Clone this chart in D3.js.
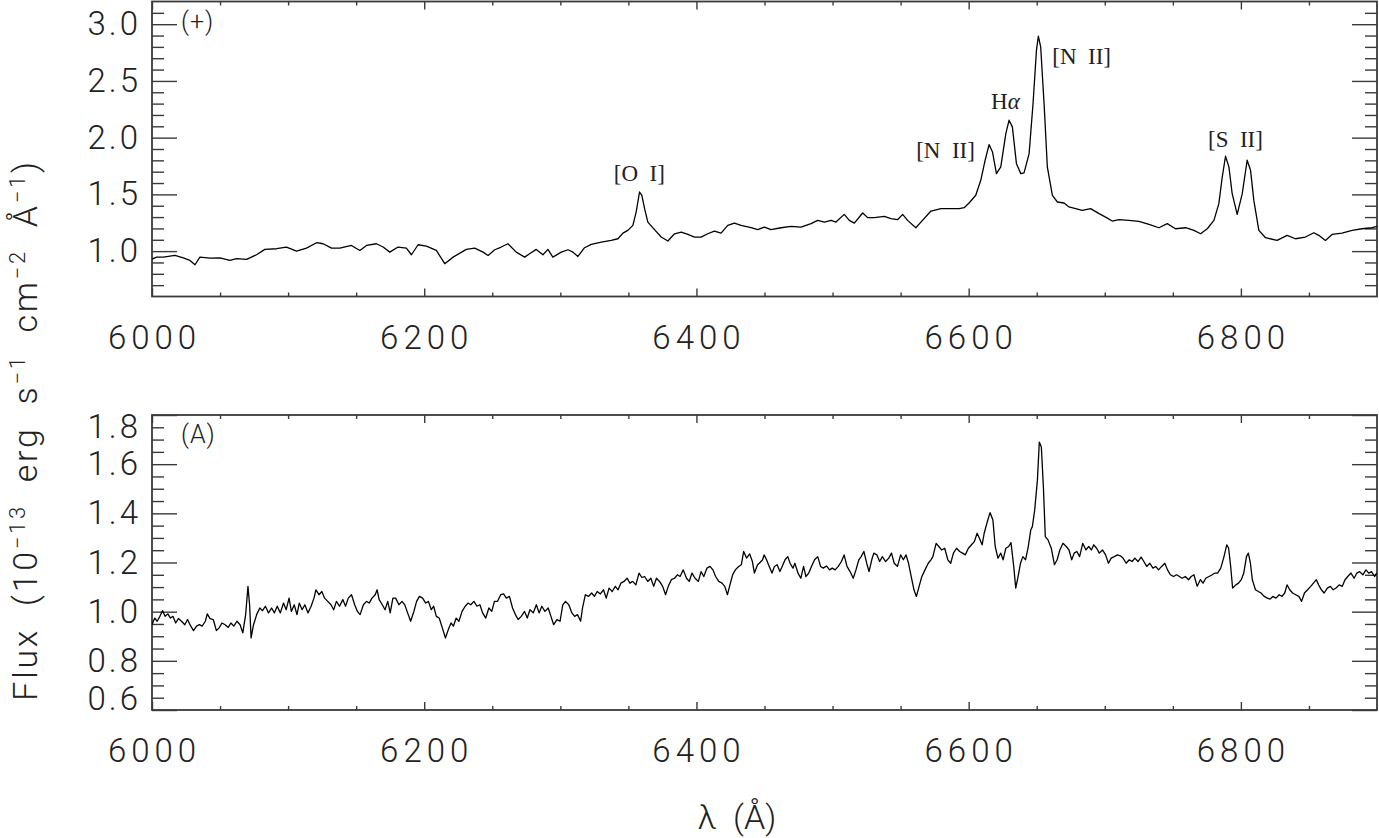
<!DOCTYPE html>
<html><head><meta charset="utf-8">
<script src="https://cdn.jsdelivr.net/npm/d3@7"></script>
<style>
html,body{margin:0;padding:0;background:#fff;}
svg{display:block;}
.lab{font-family:Roboto,"Open Sans",sans-serif;font-weight:300;fill:#222;}
.ann{font-family:"Liberation Serif","DejaVu Serif",serif;fill:#222;}
</style></head><body>
<svg id="c" width="1379" height="838"></svg>
<script>
// ---------------- data ----------------
const xMajor = [6000, 6200, 6400, 6600, 6800];
const xMinor = [6050, 6100, 6150, 6250, 6300, 6350, 6450, 6500, 6550, 6650, 6700, 6750, 6850];
const topYMajor = [1.0, 1.5, 2.0, 2.5, 3.0];
const topYMinor = [0.7,0.8,0.9,1.1,1.2,1.3,1.4,1.6,1.7,1.8,1.9,2.1,2.2,2.3,2.4,2.6,2.7,2.8,2.9,3.1];
const botYMajor = [0.6, 0.8, 1.0, 1.2, 1.4, 1.6, 1.8];
const botYMinor = [0.65,0.7,0.75,0.85,0.9,0.95,1.05,1.1,1.15,1.25,1.3,1.35,1.45,1.5,1.55,1.65,1.7,1.75];

const topLambda = [6000,6003.4,6008.3,6016.9,6023.0,6027.9,6031.6,6035.2,6042.6,6049.9,
6057.2,6062.1,6069.5,6076.8,6082.9,6091.5,6098.8,6106.2,6113.5,6120.9,
6125.7,6131.9,6138.0,6146.5,6152.7,6157.6,6164.9,6169.8,6174.7,6180.8,
6186.9,6190.6,6195.5,6201.6,6208.9,6215.1,6221.2,6230.9,6237.1,6243.2,
6246.9,6251.8,6256.6,6261.5,6267.6,6273.8,6277.4,6282.3,6287.2,6290.9,6294.5,
6300.7,6305.6,6309.3,6312.9,6317.8,6322.7,6330.1,6337.4,6342.3,6346.0,
6349.6,6353.3,6355.7,6358.2,6359.9,6361.9,6364.3,6369.2,6374.1,6379.0,
6383.9,6388.8,6393.7,6398.6,6403.4,6408.3,6413.2,6418.1,6423.0,6427.9,
6432.8,6440.1,6445.0,6449.9,6454.8,6462.2,6469.5,6476.8,6484.2,6489.1,
6494.0,6498.9,6502.5,6508.6,6512.3,6516.0,6522.1,6525.8,6530.7,6538.0,
6542.9,6547.8,6551.5,6555.1,6561.2,6564.9,6572.3,6579.6,6586.9,
6593.0,6596.7,6600.3,6605.2,6608.9,6612.1,6615.0,6617.5,6620.4,6623.6,
6627.3,6629.7,6632.1,6635.1,6638.3,6640.7,6644.4,6647.3,6649.8,6651.2,
6652.9,6655.4,6657.8,6661.5,6665.2,6670.1,6673.7,6678.6,6683.5,6689.6,
6695.8,6700.6,6705.5,6710.4,6717.8,6725.1,6732.5,6739.8,6745.9,6752.0,
6759.4,6765.5,6770.4,6775.3,6780.2,6783.8,6786.3,6788.7,6791.2,6793.6,
6797.3,6801.0,6804.6,6807.1,6809.5,6813.2,6818.1,6826.6,6834.0,6840.1,
6847.4,6853.6,6857.2,6862.1,6867.0,6874.3,6881.7,6889.0,6896.4,6900];
const topFlux = [0.930,0.947,0.947,0.962,0.941,0.918,0.880,0.947,0.938,0.941,
0.918,0.933,0.927,0.968,1.015,1.021,1.036,1.000,1.027,1.074,
1.065,1.027,1.027,1.050,1.006,1.050,1.065,1.036,0.991,1.036,
1.027,0.968,1.056,1.044,1.006,0.889,0.947,1.015,1.027,0.991,
0.962,1.012,1.036,1.065,0.991,0.947,0.977,1.015,0.968,1.015,0.947,
0.991,1.012,0.991,0.953,1.030,1.059,1.080,1.094,1.109,1.159,
1.183,1.227,1.344,1.521,1.492,1.374,1.256,1.189,1.124,1.089,
1.153,1.168,1.147,1.124,1.124,1.153,1.177,1.159,1.227,1.247,
1.227,1.206,1.189,1.212,1.189,1.206,1.218,1.212,1.242,1.271,
1.256,1.271,1.256,1.324,1.271,1.247,1.336,1.295,1.295,1.306,
1.286,1.277,1.324,1.271,1.206,1.256,1.353,1.374,1.374,
1.374,1.383,1.424,1.492,1.624,1.801,1.939,1.874,1.683,1.742,
2.036,2.154,2.095,1.771,1.683,1.689,1.859,2.301,2.771,2.895,
2.801,2.301,1.742,1.492,1.433,1.424,1.389,1.374,1.359,1.374,
1.330,1.300,1.265,1.277,1.271,1.262,1.236,1.206,1.242,1.197,
1.206,1.183,1.153,1.197,1.271,1.418,1.653,1.836,1.742,1.506,
1.324,1.506,1.801,1.712,1.447,1.183,1.118,1.094,1.139,1.109,
1.124,1.162,1.139,1.094,1.147,1.159,1.183,1.197,1.206,1.218];

const botLambda = [6000.0,6002.0,6003.8,6005.8,6007.8,6009.6,6011.6,6013.6,6015.4,6017.4,
6019.4,6021.7,6024.1,6026.1,6028.1,6030.5,6032.8,6034.8,6036.8,6039.2,
6040.6,6042.6,6045.0,6047.3,6049.3,6051.4,6053.7,6056.0,6058.0,6060.1,
6062.4,6064.7,6066.7,6068.8,6070.5,6071.7,6072.8,6074.6,6076.9,6079.2,
6081.2,6083.3,6085.6,6087.9,6089.9,6092.0,6094.3,6096.6,6098.6,6100.7,
6102.4,6104.5,6106.5,6108.2,6110.3,6112.3,6114.6,6116.9,6119.0,6120.4,
6122.7,6124.8,6126.8,6129.1,6131.5,6133.5,6135.5,6137.8,6140.2,6142.2,
6144.2,6146.6,6148.9,6150.9,6152.9,6155.3,6157.6,6159.6,6161.6,6164.0,
6165.4,6166.9,6169.2,6171.2,6173.2,6175.0,6177.0,6179.0,6181.4,6183.7,
6185.7,6187.8,6190.0,6192.4,6194.4,6196.5,6198.8,6201.1,6203.1,6205.2,
6206.9,6208.9,6211.0,6213.3,6215.6,6217.7,6219.7,6221.4,6223.5,6225.5,
6227.8,6230.1,6232.2,6234.2,6236.5,6238.8,6240.9,6242.9,6245.2,6247.5,
6249.6,6251.6,6253.9,6256.2,6258.3,6260.3,6262.6,6264.9,6267.0,6269.0,
6271.3,6273.7,6275.7,6277.7,6280.1,6282.4,6284.4,6286.4,6288.7,6291.1,
6293.1,6295.1,6297.5,6299.8,6301.8,6303.8,6306.2,6308.5,6310.5,6312.6,
6314.9,6316.3,6318.4,6320.7,6323.0,6325.0,6327.1,6329.4,6331.7,6333.7,
6335.8,6338.1,6340.4,6342.4,6344.5,6346.8,6349.1,6351.1,6353.2,6355.5,
6357.8,6359.9,6361.9,6364.2,6366.5,6368.6,6370.6,6372.9,6375.2,6377.3,
6379.3,6381.6,6383.9,6386.0,6388.0,6390.3,6392.7,6394.7,6396.7,6399.0,
6401.4,6403.4,6405.4,6407.7,6410.0,6412.1,6414.1,6416.4,6418.8,6420.8,
6422.8,6424.6,6426.6,6428.6,6431.0,6433.0,6434.7,6436.8,6439.1,6441.1,
6442.6,6444.9,
6446.2,6448.6,6449.7,6451.5,6453.5,6455.5,6457.3,6459.3,6461.3,6463.0,
6465.1,6467.1,6468.8,6470.9,6472.3,6474.6,6476.7,6478.7,6480.4,6482.5,
6484.5,6486.8,6489.1,6491.2,6493.2,6495.5,6497.8,6499.8,6501.9,6504.2,
6506.5,6508.5,6510.6,6512.9,6515.2,6517.2,6519.3,6521.0,6523.0,6525.1,
6526.8,6528.8,6530.3,6532.6,6534.6,6536.6,6539.0,6541.3,6543.3,6545.3,
6547.7,6550.0,6552.0,6554.0,6555.8,6557.8,6559.8,6561.6,6563.6,6565.6,
6567.9,6570.3,6572.3,6573.7,6576.1,6578.1,6580.1,6582.4,6584.7,6586.8,
6588.8,6591.1,6593.4,6595.5,6597.5,6599.8,6602.1,6604.2,6606.2,6607.9,
6609.9,6611.4,6613.7,6615.7,6617.8,6619.5,6621.5,6623.6,6625.3,6627.3,
6629.4,6631.1,6633.1,6634.6,6636.3,6638.1,6639.8,6641.8,6643.8,6645.6,
6646.8,6648.5,6650.5,6651.9,6653.4,6654.9,6656.3,6658.3,6660.7,6663.0,
6665.0,6667.0,6669.3,6671.7,6673.7,6675.7,6677.5,6679.5,6681.5,6683.8,
6686.2,6688.2,6690.2,6691.9,6694.0,6696.0,6698.3,6700.6,6702.7,6704.7,
6707.0,6709.3,6711.4,6713.4,6715.7,6718.0,6720.1,6722.1,6724.4,6726.7,
6728.7,6730.8,6733.1,6735.4,6737.4,6739.5,6741.8,6744.1,6746.1,6748.2,
6750.5,6752.8,6754.8,6756.8,6759.2,6761.5,6763.5,6765.5,6767.9,6770.2,
6772.2,6774.2,6776.6,6778.9,6780.9,6782.9,6785.2,6787.6,6789.6,6791.0,
6792.5,6793.9,6796.3,6798.3,6800.3,6802.1,6804.1,6805.5,6807.0,6808.4,
6810.7,6812.8,6814.8,6817.1,6819.4,6821.5,6823.5,6825.8,6828.1,6830.2,
6832.2,6833.9,6835.9,6838.0,6840.3,6842.6,6844.6,6846.7,6849.0,6851.3,
6853.3,6855.4,6857.1,6859.1,6861.2,6863.5,6865.8,6867.8,6869.9,6872.2,
6874.5,6876.5,6878.5,6880.9,6883.2,6885.2,6887.2,6889.6,6891.9,6893.9,
6895.9,6898.3,6899.7];
const botFlux = [0.947,0.974,0.961,0.981,1.004,0.981,0.991,0.974,0.981,0.954,
0.972,0.961,0.947,0.968,0.945,0.923,0.941,0.947,0.941,0.961,
0.991,0.972,0.968,0.923,0.934,0.954,0.947,0.936,0.954,0.941,
0.961,0.947,0.914,0.988,1.103,1.028,0.893,0.947,0.988,1.015,
1.004,1.022,0.995,1.015,0.995,1.022,0.995,1.035,1.008,1.055,
1.001,1.028,0.988,1.035,1.008,1.028,0.995,1.022,1.055,1.089,
1.069,1.082,1.055,1.042,1.028,1.008,1.042,1.022,1.049,1.022,
1.055,1.069,1.028,1.001,0.988,1.028,1.042,1.035,1.055,1.069,
1.089,1.049,1.028,1.008,1.042,0.995,1.055,1.055,1.028,1.042,
1.028,0.995,0.961,1.001,1.042,1.062,1.055,1.035,1.042,1.008,
1.022,0.981,0.974,0.934,0.893,0.927,0.954,0.941,0.974,0.961,
1.001,1.022,1.035,1.028,1.042,1.022,1.028,0.995,0.974,1.015,
1.001,1.042,1.042,1.069,1.072,1.055,1.062,1.015,0.988,0.968,
0.981,1.001,0.974,1.008,0.995,1.028,0.995,1.022,1.001,1.015,
0.981,0.947,0.968,0.961,1.028,1.042,1.028,0.995,0.981,0.988,
0.961,1.015,1.069,1.062,1.076,1.062,1.082,1.072,1.089,1.055,
1.096,1.082,1.103,1.089,1.116,1.123,1.136,1.116,1.123,1.109,
1.157,1.139,1.143,1.123,1.136,1.103,1.136,1.123,1.103,1.069,
1.103,1.130,1.136,1.150,1.143,1.170,1.136,1.123,1.157,1.136,
1.123,1.163,1.143,1.177,1.184,1.170,1.143,1.123,1.116,1.103,
1.069,1.109,1.150,1.170,1.184,1.191,1.245,1.218,1.235,1.204,
1.157,1.191,
1.197,1.211,1.231,1.211,1.184,1.157,1.184,1.191,1.163,1.184,
1.211,1.224,1.197,1.177,1.197,1.157,1.136,1.184,1.143,1.157,
1.184,1.211,1.224,1.184,1.177,1.186,1.170,1.177,1.170,1.184,
1.204,1.231,1.184,1.163,1.136,1.170,1.211,1.224,1.245,1.197,
1.163,1.211,1.238,1.231,1.204,1.224,1.204,1.218,1.238,1.197,
1.184,1.231,1.211,1.231,1.197,1.143,1.089,1.062,1.103,1.143,
1.170,1.197,1.211,1.224,1.278,1.265,1.251,1.258,1.211,1.197,
1.238,1.258,1.245,1.238,1.231,1.258,1.272,1.285,1.319,1.299,
1.272,1.319,1.366,1.403,1.373,1.265,1.218,1.238,1.211,1.258,
1.265,1.281,1.184,1.096,1.143,1.197,1.224,1.211,1.265,1.332,
1.346,1.413,1.535,1.690,1.670,1.508,1.305,1.292,1.258,1.191,
1.211,1.251,1.278,1.265,1.251,1.211,1.238,1.245,1.224,1.278,
1.251,1.265,1.251,1.272,1.258,1.238,1.251,1.231,1.197,1.218,
1.224,1.231,1.227,1.218,1.197,1.211,1.204,1.218,1.204,1.222,
1.204,1.184,1.197,1.177,1.184,1.170,1.184,1.197,1.170,1.150,
1.143,1.150,1.143,1.136,1.143,1.130,1.143,1.150,1.103,1.130,
1.116,1.136,1.143,1.150,1.157,1.157,1.177,1.224,1.272,1.258,
1.184,1.096,1.109,1.116,1.130,1.157,1.224,1.238,1.197,1.130,
1.089,1.082,1.076,1.062,1.055,1.051,1.062,1.055,1.069,1.062,
1.076,1.109,1.089,1.076,1.069,1.062,1.042,1.076,1.089,1.103,
1.116,1.130,1.109,1.089,1.076,1.096,1.103,1.089,1.096,1.109,
1.103,1.130,1.143,1.157,1.136,1.157,1.163,1.150,1.170,1.157,
1.163,1.143,1.157];

const lineLabels = [
  {text: "[O I]", lambda: 6358, flux: 1.62, panel: "top"},
  {text: "[N II]", lambda: 6583, flux: 1.82, panel: "top"},
  {text: "Hα", lambda: 6627, flux: 2.25, panel: "top"},
  {text: "[N II]", lambda: 6683, flux: 2.65, panel: "top"},
  {text: "[S II]", lambda: 6796, flux: 1.92, panel: "top"}
];
const panelTags = ["(+)", "(A)"];

// ---------------- layout ----------------
const svg = d3.select("#c");
const L = 152, R = 1377;
const x = d3.scaleLinear().domain([6000, 6900]).range([L, R]);
const yTop = d3.scaleLinear().domain([0.6, 3.2]).range([296.5, 1.5]);
const yBot = d3.scaleLinear().domain([0.6, 1.8]).range([710, 415]);
const FRAME = "#3a3a3a";
const SANS = "Roboto, 'Open Sans', sans-serif";

function styleAxis(g){
  g.select(".domain").remove();
  g.selectAll(".tick line").attr("stroke", FRAME).attr("stroke-width", 1.4);
  g.selectAll("text").attr("class","lab").attr("fill","#222")
    .style("font-family", SANS).style("font-weight","300");
}

function panel(y, yMajor, yMinor, lam, flux, tag, clipId){
  const y0 = y.range()[0], y1 = y.range()[1];
  const g = svg.append("g");
  g.append("clipPath").attr("id", clipId).append("rect")
    .attr("x", L).attr("y", y1).attr("width", R - L).attr("height", y0 - y1);

  // x axes (bottom with labels, top without)
  g.append("g").attr("transform", `translate(0,${y0})`)
    .call(d3.axisBottom(x).tickValues(xMajor).tickFormat(d3.format("d")).tickSizeInner(-8).tickSizeOuter(0).tickPadding(29))
    .call(styleAxis)
    .call(a => a.selectAll("text").attr("font-size", 33).attr("dx", 2).style("letter-spacing","5px"));
  g.append("g").attr("transform", `translate(0,${y0})`)
    .call(d3.axisBottom(x).tickValues(xMinor).tickFormat("").tickSizeInner(-4).tickSizeOuter(0))
    .call(styleAxis);
  g.append("g").attr("transform", `translate(0,${y1})`)
    .call(d3.axisTop(x).tickValues(xMajor).tickFormat("").tickSizeInner(-8).tickSizeOuter(0))
    .call(styleAxis);
  g.append("g").attr("transform", `translate(0,${y1})`)
    .call(d3.axisTop(x).tickValues(xMinor).tickFormat("").tickSizeInner(-4).tickSizeOuter(0))
    .call(styleAxis);

  // y axes
  const fmt = d3.format(".1f");
  const la = g.append("g").attr("transform", `translate(${L},0)`)
    .call(d3.axisLeft(y).tickValues(yMajor).tickFormat(fmt).tickSizeInner(-25).tickSizeOuter(0).tickPadding(11))
    .call(styleAxis)
    .call(a => a.selectAll("text").attr("font-size", 33).style("letter-spacing","3px"));
  // keep end labels inside the frame
  la.selectAll(".tick").each(function(d){
    const t = d3.select(this).select("text");
    if (Math.abs(y(d) - y1) < 2) t.attr("dy", "0.32em").attr("y", 12);
    if (Math.abs(y(d) - y0) < 2) t.attr("dy", "0.32em").attr("y", -11);
  });
  g.append("g").attr("transform", `translate(${L},0)`)
    .call(d3.axisLeft(y).tickValues(yMinor).tickFormat("").tickSizeInner(-12).tickSizeOuter(0))
    .call(styleAxis);
  g.append("g").attr("transform", `translate(${R},0)`)
    .call(d3.axisRight(y).tickValues(yMajor).tickFormat("").tickSizeInner(-25).tickSizeOuter(0))
    .call(styleAxis);
  g.append("g").attr("transform", `translate(${R},0)`)
    .call(d3.axisRight(y).tickValues(yMinor).tickFormat("").tickSizeInner(-12).tickSizeOuter(0))
    .call(styleAxis);

  // frame
  g.append("rect").attr("x", L).attr("y", y1).attr("width", R - L).attr("height", y0 - y1)
    .attr("fill", "none").attr("stroke", FRAME).attr("stroke-width", 1.8);

  // spectrum
  const pts = lam.map((l, i) => [l, flux[i]]);
  g.append("path").datum(pts)
    .attr("clip-path", `url(#${clipId})`)
    .attr("d", d3.line().x(d => x(d[0])).y(d => y(d[1])))
    .attr("fill", "none").attr("stroke", "#000").attr("stroke-width", 1.3)
    .attr("stroke-linejoin", "round");

  // panel tag
  g.append("text").attr("class", "lab").attr("x", 181).attr("y", y1 + 28)
    .attr("font-size", 25).style("letter-spacing","1px").text(tag);
  return g;
}

const gTop = panel(yTop, topYMajor, topYMinor, topLambda, topFlux, panelTags[0], "clipTop");
panel(yBot, botYMajor, botYMinor, botLambda, botFlux, panelTags[1], "clipBot");

// line labels in top panel
lineLabels.forEach(d => {
  const t = gTop.append("text").attr("class", "ann")
    .attr("x", x(d.lambda)).attr("y", yTop(d.flux))
    .attr("text-anchor", "middle").attr("font-size", 23)
    .style("white-space", "pre");
  if (d.text === "Hα") {
    t.append("tspan").text("H");
    t.append("tspan").attr("font-style", "italic").text("α");
  } else {
    t.text(d.text.replace(" ", "  "));
  }
});

// axis titles
svg.append("text").attr("class", "lab")
  .attr("x", 737).attr("y", 829).attr("text-anchor", "middle")
  .attr("font-size", 34).style("white-space", "pre").text("λ  (Å)");

const yTitleParts = [["Flux  (10", false], ["−13", true], ["  erg  s", false], ["−1", true],
  ["  cm", false], ["−2", true], ["  Å", false], ["−1", true], [")", false]];
const yt = svg.append("text").attr("class", "lab")
  .attr("transform", "translate(37,430) rotate(-90)")
  .attr("text-anchor", "middle").attr("font-size", 34)
  .style("white-space", "pre").style("letter-spacing", "2.7px");
let prevSup = false;
yTitleParts.forEach(([s, sup]) => {
  const dy = sup && !prevSup ? -12 : (!sup && prevSup ? 12 : 0);
  yt.append("tspan").attr("dy", dy).attr("font-size", sup ? 22 : 34).text(s);
  prevSup = sup;
});
</script>
</body></html>
